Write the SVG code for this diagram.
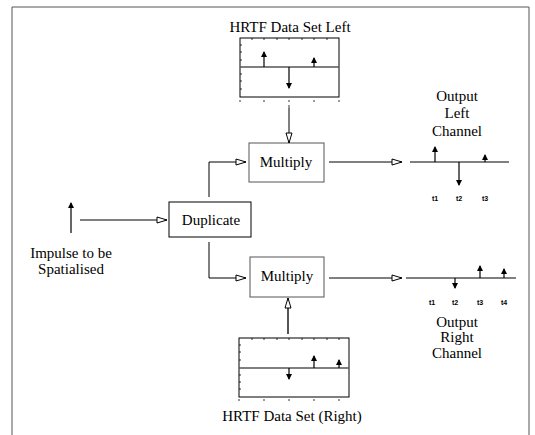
<svg xmlns="http://www.w3.org/2000/svg" width="535" height="435" viewBox="0 0 535 435">
<style>
text{font-family:"Liberation Serif","Times New Roman",serif;fill:#000}
.lbl{font-size:15px}
.t{font-family:"Liberation Sans",Arial,sans-serif;font-size:7px;font-weight:bold;fill:#000}
.box{fill:#fff;stroke:#555;stroke-width:1}
.ln{fill:none;stroke:#000;stroke-width:1}
.imp{fill:none;stroke:#000;stroke-width:1.2}
.base{stroke:#555;stroke-width:1.6}
.tick{stroke:#000;stroke-width:0.8}
</style>
<defs>
<marker id="ha" markerWidth="12" markerHeight="8" refX="11" refY="4" orient="auto" markerUnits="userSpaceOnUse">
<path d="M1,1 L11,4 L1,7 Z" fill="#fff" stroke="#000" stroke-width="1"/>
</marker>
<marker id="sa" markerWidth="6" markerHeight="6" refX="5" refY="3" orient="auto" markerUnits="userSpaceOnUse">
<path d="M0,0 L6,3 L0,6 Z" fill="#000"/>
</marker>
</defs>
<g id="frame"><path d="M12,435 V7 H529 V435" fill="none" stroke="#555" stroke-width="1"/></g>

<g id="hrtf-left">
<text class="lbl" x="290" y="32" text-anchor="middle">HRTF Data Set Left</text>
<rect x="240" y="38" width="99" height="59" fill="none" stroke="#000" stroke-width="1"/>
<path class="tick" d="M252,38v2M264,38v2M277,38v2M289,38v2M302,38v2M314,38v2M327,38v2M240,45h2M240,52h2M240,60h2M240,74h2M240,81h2M240,89h2M240,100v2M264,100v2M289,100v2M314,100v2M339,100v2M289,105v3"/>
<line class="base" x1="240" y1="67" x2="339" y2="67"/>
<line class="imp" x1="264" y1="67" x2="264" y2="52" marker-end="url(#sa)"/>
<line class="imp" x1="289" y1="67" x2="289" y2="88" marker-end="url(#sa)"/>
<line class="imp" x1="314" y1="67" x2="314" y2="58" marker-end="url(#sa)"/>
</g>

<g id="multiply-top"><rect class="box" x="249" y="143" width="75" height="39"/><text class="lbl" x="286" y="167" text-anchor="middle">Multiply</text></g>
<g id="multiply-bottom"><rect class="box" x="250" y="257" width="74" height="40"/><text class="lbl" x="287" y="281" text-anchor="middle">Multiply</text></g>
<g id="duplicate"><rect x="169" y="202" width="82" height="35" fill="#fff" stroke="#000"/><text class="lbl" x="211" y="225" text-anchor="middle">Duplicate</text></g>

<g id="impulse">
<line class="imp" x1="71" y1="233" x2="71" y2="203" marker-end="url(#sa)"/>
<text class="lbl" x="71" y="258" text-anchor="middle">Impulse to be</text>
<text class="lbl" x="71" y="274" text-anchor="middle">Spatialised</text>
</g>

<g id="output-left">
<text class="lbl" x="457" y="101" text-anchor="middle">Output</text>
<text class="lbl" x="457" y="118" text-anchor="middle">Left</text>
<text class="lbl" x="457" y="136" text-anchor="middle">Channel</text>
<line x1="410" y1="162" x2="509" y2="162" stroke="#000"/>
<line class="imp" x1="435" y1="162" x2="435" y2="147" marker-end="url(#sa)"/>
<line class="imp" x1="459" y1="162" x2="459" y2="185" marker-end="url(#sa)"/>
<line class="imp" x1="485" y1="162" x2="485" y2="155" marker-end="url(#sa)"/>
<text class="t" x="435" y="201" text-anchor="middle">t1</text>
<text class="t" x="459" y="201" text-anchor="middle">t2</text>
<text class="t" x="485" y="201" text-anchor="middle">t3</text>
</g>

<g id="output-right">
<line x1="406" y1="278" x2="516" y2="278" stroke="#000"/>
<line class="imp" x1="455" y1="278" x2="455" y2="288" marker-end="url(#sa)"/>
<line class="imp" x1="480" y1="278" x2="480" y2="266" marker-end="url(#sa)"/>
<line class="imp" x1="504" y1="278" x2="504" y2="269" marker-end="url(#sa)"/>
<text class="t" x="432" y="305" text-anchor="middle">t1</text>
<text class="t" x="455" y="305" text-anchor="middle">t2</text>
<text class="t" x="480" y="305" text-anchor="middle">t3</text>
<text class="t" x="504" y="305" text-anchor="middle">t4</text>
<text class="lbl" x="457" y="327" text-anchor="middle">Output</text>
<text class="lbl" x="457" y="342" text-anchor="middle">Right</text>
<text class="lbl" x="457" y="358" text-anchor="middle">Channel</text>
</g>

<g id="hrtf-right">
<rect x="239" y="338" width="110" height="59" fill="none" stroke="#000" stroke-width="1"/>
<path class="tick" d="M252,338v2M264,338v2M277,338v2M289,338v2M302,338v2M314,338v2M327,338v2M339,338v2M239,345h2M239,352h2M239,360h2M239,375h2M239,382h2M239,389h2M239,399v2M264,399v2M289,399v2M314,399v2M339,399v2"/>
<line class="base" x1="239" y1="368" x2="349" y2="368"/>
<line class="imp" x1="289" y1="368" x2="289" y2="379" marker-end="url(#sa)"/>
<line class="imp" x1="314" y1="368" x2="314" y2="356" marker-end="url(#sa)"/>
<line class="imp" x1="339" y1="368" x2="339" y2="360" marker-end="url(#sa)"/>
<text class="lbl" x="292" y="421" text-anchor="middle">HRTF Data Set (Right)</text>
</g>

<g id="connectors">
<line class="ln" x1="80" y1="220" x2="167" y2="220" marker-end="url(#ha)"/>
<path class="ln" d="M209,197 V162 H246" marker-end="url(#ha)"/>
<path class="ln" d="M209,242 V278 H246" marker-end="url(#ha)"/>
<line class="ln" x1="289" y1="108" x2="289" y2="143" marker-end="url(#ha)"/>
<line x1="288" y1="334" x2="288" y2="298" stroke="#555" stroke-width="2" marker-end="url(#ha)"/>
<line class="ln" x1="329" y1="162" x2="402" y2="162" marker-end="url(#ha)"/>
<line class="ln" x1="329" y1="278" x2="402" y2="278" marker-end="url(#ha)"/>
</g>
</svg>
